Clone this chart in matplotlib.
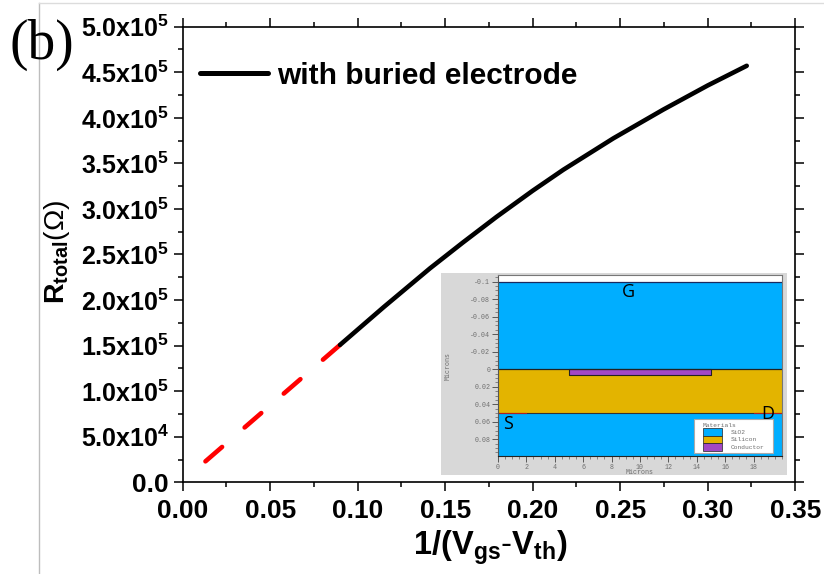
import matplotlib
matplotlib.use('Agg')
import matplotlib.pyplot as plt
from matplotlib.lines import Line2D
from matplotlib.patches import Patch, Rectangle
from matplotlib.ticker import MultipleLocator

plt.rcParams['font.family'] = ['Liberation Sans', 'DejaVu Sans']
plt.rcParams['mathtext.fontset'] = 'custom'
plt.rcParams['mathtext.rm'] = 'Liberation Sans'
plt.rcParams['mathtext.bf'] = 'Liberation Sans:bold'
plt.rcParams['mathtext.default'] = 'bf'

W, H = 824, 574

# values
r_x_black = [0.0899, 0.115, 0.1413, 0.16, 0.1794, 0.20, 0.2175, 0.2461, 0.2746, 0.30, 0.3223]
r_y_black = [1.508e5, 1.925e5, 2.348e5, 2.63e5, 2.914e5, 3.20e5, 3.43e5, 3.775e5, 4.09e5, 4.355e5, 4.571e5]
r_x_red = [0.0130, 0.0899]
r_y_red = [0.23e5, 1.508e5]
x_ticks = [0.00, 0.05, 0.10, 0.15, 0.20, 0.25, 0.30, 0.35]
y_ticks = [0, 5e4, 1e5, 1.5e5, 2e5, 2.5e5, 3e5, 3.5e5, 4e5, 4.5e5, 5e5]
y_labels = ['0.0', '$5.0x10^4$', '$1.0x10^5$', '$1.5x10^5$', '$2.0x10^5$', '$2.5x10^5$',
            '$3.0x10^5$', '$3.5x10^5$', '$4.0x10^5$', '$4.5x10^5$', '$5.0x10^5$']

# inset structure (microns)
ins_x = [0, 20]
ins_top = -0.1
si_top = 0.0
si_bottom = 0.05
ins_bottom = 0.099
cond_x = [5, 15]
cond_depth = 0.007
contact_s = [0, 2]
contact_d = [18, 20]
ins_yticks = [-0.1, -0.08, -0.06, -0.04, -0.02, 0, 0.02, 0.04, 0.06, 0.08]
ins_ylabels = ['-0.1', '-0.08', '-0.06', '-0.04', '-0.02', '0', '0.02', '0.04', '0.06', '0.08']
ins_xticks = [0, 2, 4, 6, 8, 10, 12, 14, 16, 18]

BLUE = '#00aeff'
GOLD = '#e3b400'
PURPLE = '#a348c4'
GREY_TXT = '#6e6e6e'


def box(left, top, right, bottom):
    # pixel box to figure fractions
    return [left / W, 1 - bottom / H, (right - left) / W, (bottom - top) / H]


fig = plt.figure(figsize=(W / 100, H / 100), dpi=100)

# grey frame of the pasted picture
fig.add_artist(Line2D([38.5 / W, 38.5 / W], [0, 1 - 2.5 / H], color='#bdbdbd', lw=1))
fig.add_artist(Line2D([38.5 / W, 1], [1 - 2.5 / H, 1 - 2.5 / H], color='#dcdcdc', lw=1))

ax = fig.add_axes(box(182.7, 26.7, 795.2, 482.3))
ax.plot(r_x_red, r_y_red, color='#ff0000', lw=3.3, linestyle=(0, (4.8, 6.5)), dash_capstyle='round')
ax.plot(r_x_black, r_y_black, color='black', lw=3.3, solid_capstyle='round')
ax.set_xlim(0, 0.35)
ax.set_ylim(0, 5e5)
ax.set_xticks(x_ticks)
ax.set_xticklabels(['%.2f' % v for v in x_ticks], fontsize=19, fontweight='bold')
ax.set_yticks(y_ticks)
ax.set_yticklabels(y_labels, fontsize=18, fontweight='bold')
ax.get_yticklabels()[0].set_fontsize(19)
ax.xaxis.set_minor_locator(MultipleLocator(0.025))
ax.yaxis.set_minor_locator(MultipleLocator(2.5e4))
ax.tick_params(which='major', direction='out', length=6.8, width=1.1, top=True, right=True, pad=3)
ax.tick_params(which='minor', direction='out', length=3.4, width=1.1, top=True, right=True)
ax.tick_params(axis='x', which='major', pad=5)
for s in ax.spines.values():
    s.set_linewidth(1.2)

# legend drawn by hand, the sample is longer than a normal handle
ax.plot([0.01, 0.0490], [4.49e5, 4.49e5], color='black', lw=3.6, solid_capstyle='round')
fig.text(277 / W, 1 - 83.5 / H, 'with buried electrode', fontsize=21.5, fontweight='bold', va='baseline')

fig.text(9 / W, 1 - 59 / H, '(b)', fontsize=40, family='Liberation Serif', va='baseline')
fig.text(490 / W, 1 - 555 / H, r'$1/(V_{gs}$-$V_{th})$', fontsize=23.5, ha='center', va='baseline')
fig.text(72 / W, 1 - 252 / H, r'$R_{total}\mathrm{(\Omega)}$', fontsize=20.5, rotation=90,
         ha='right', va='center')

# inset: device cross-section
bg = fig.add_axes(box(441, 273, 787, 475))
bg.set_facecolor('#d8d8d8')
bg.set_xticks([])
bg.set_yticks([])
for s in bg.spines.values():
    s.set_visible(False)

ins = fig.add_axes(box(498, 275, 782, 456))
ins.set_xlim(ins_x)
ins.set_ylim(ins_bottom, -0.1076)
ins.axhspan(ins_top, si_top, color=BLUE, lw=0)
ins.axhspan(si_top, si_bottom, color=GOLD, lw=0)
ins.axhspan(si_bottom, ins_bottom, color=BLUE, lw=0)
ins.fill_between(cond_x, si_top, cond_depth, facecolor=PURPLE, edgecolor='#222222', lw=0.8)
ins.plot(ins_x, [ins_top, ins_top], color='#1a2a60', lw=0.9)
ins.plot(ins_x, [si_top, si_top], color='#222222', lw=0.9)
ins.plot(ins_x, [si_bottom, si_bottom], color='#333333', lw=0.8)
ins.plot(contact_s, [si_bottom, si_bottom], color='#b02020', lw=0.8)
ins.plot(contact_d, [si_bottom, si_bottom], color='#b02020', lw=0.8)
ins.set_xticks(ins_xticks)
ins.set_xticklabels(ins_xticks, fontsize=4.8, family='Liberation Mono', color=GREY_TXT)
ins.set_yticks(ins_yticks)
ins.set_yticklabels(ins_ylabels, fontsize=4.8, family='Liberation Mono', color=GREY_TXT)
ins.xaxis.set_minor_locator(MultipleLocator(0.5))
ins.yaxis.set_minor_locator(MultipleLocator(0.005))
ins.tick_params(which='major', length=4, width=0.6, color='#444444', pad=1.5)
ins.tick_params(which='minor', length=2, width=0.4, color='#444444')
for s in ins.spines.values():
    s.set_color('#777777')
    s.set_linewidth(0.8)
ins.spines['bottom'].set_color('#222222')
ins.spines['left'].set_color('#555555')
fig.text(640 / W, 1 - 474.5 / H, 'Microns', fontsize=4.8, family='Liberation Mono', color=GREY_TXT,
         ha='center', va='baseline')
fig.text(448 / W, 1 - 366 / H, 'Microns', fontsize=4.8, family='Liberation Mono', color=GREY_TXT,
         rotation=90, ha='center', va='center')

ins.text(9.2, -0.088, 'G', fontsize=13, family='Open Sans', ha='center', va='center', color='black', zorder=7)
ins.text(0.7, 0.0625, 'S', fontsize=13, family='Open Sans', ha='center', va='center', color='black', zorder=7)
ins.text(19.0, 0.051, 'D', fontsize=13, family='Open Sans', ha='center', va='center', color='black', zorder=7)

# white box behind the materials key
ins.add_patch(Rectangle((196 / 284, 3 / 181), 79 / 284, 34 / 181, transform=ins.transAxes,
                        facecolor='white', edgecolor='#aaaaaa', lw=0.8, zorder=4))
handles = [Patch(facecolor=BLUE, edgecolor='#222222', lw=0.5),
           Patch(facecolor=GOLD, edgecolor='#222222', lw=0.5),
           Patch(facecolor=PURPLE, edgecolor='#222222', lw=0.5)]
leg = ins.legend(handles, ['SiO2', 'Silicon', 'Conductor'], title='Materials', loc='lower left',
                 bbox_to_anchor=(205 / 284, 5.5 / 181), prop={'family': 'Liberation Mono', 'size': 4.5},
                 title_fontproperties={'family': 'Liberation Mono', 'size': 4.5},
                 frameon=False, borderpad=0, labelspacing=0, handlelength=3.0, handleheight=1.45,
                 handletextpad=1.44, borderaxespad=0, alignment='left')
leg._legend_box.sep = 0.5
for t in leg.get_texts():
    t.set_color(GREY_TXT)
leg.get_title().set_color(GREY_TXT)

fig.savefig('out.png', dpi=100)
